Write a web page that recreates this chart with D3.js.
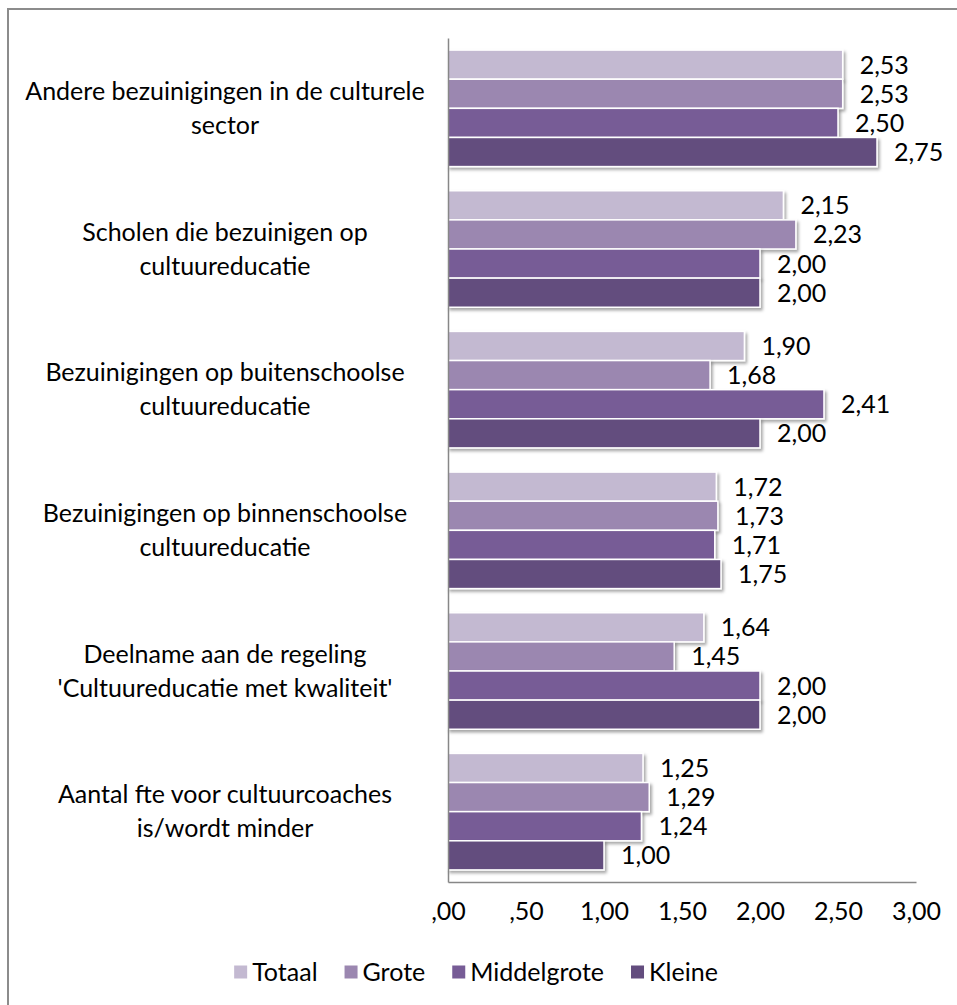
<!DOCTYPE html>
<html>
<head>
<meta charset="utf-8">
<script src="https://cdn.jsdelivr.net/npm/d3@7"></script>
<style>
  html, body { margin: 0; padding: 0; background: #fff; }
  svg { display: block; }
  text { font-family: Lato, "Open Sans", sans-serif; fill: #000; }
</style>
</head>
<body>
<svg id="chart" width="957" height="1005"></svg>
<script>
// ---- Data ----
const categories = [
  ["Andere bezuinigingen in de culturele", "sector"],
  ["Scholen die bezuinigen op", "cultuureducatie"],
  ["Bezuinigingen op buitenschoolse", "cultuureducatie"],
  ["Bezuinigingen op binnenschoolse", "cultuureducatie"],
  ["Deelname aan de regeling", "'Cultuureducatie met kwaliteit'"],
  ["Aantal fte voor cultuurcoaches", "is/wordt minder"]
];
const seriesNames = ["Totaal", "Grote", "Middelgrote", "Kleine"];
const totaal      = [2.53, 2.15, 1.90, 1.72, 1.64, 1.25];
const grote       = [2.53, 2.23, 1.68, 1.73, 1.45, 1.29];
const middelgrote = [2.50, 2.00, 2.41, 1.71, 2.00, 1.24];
const kleine      = [2.75, 2.00, 2.00, 1.75, 2.00, 1.00];
const seriesColors = ["#C3B9D1", "#9B87B0", "#775C96", "#634D7E"];
const xTicks = [0, 0.5, 1, 1.5, 2, 2.5, 3];

const seriesValues = [totaal, grote, middelgrote, kleine];
const fmt = v => { const s = v.toFixed(2).replace(".", ","); return s.startsWith("0") ? s.slice(1) : s; };

const svg = d3.select("#chart");
const FS = 25;

// frame
svg.append("rect").attr("x", 8).attr("y", 9).attr("width", 1000).attr("height", 1050)
  .attr("fill", "#fff").attr("stroke", "#8c8c8c").attr("stroke-width", 2);

// shadow filter
const defs = svg.append("defs");
const f = defs.append("filter").attr("id", "shadow").attr("x", "-5%").attr("y", "-20%").attr("width", "115%").attr("height", "160%");
f.append("feDropShadow").attr("dx", 2).attr("dy", 2.5).attr("stdDeviation", 1.5)
  .attr("flood-color", "#000").attr("flood-opacity", 0.35);

const plot = { left: 448, right: 916, top: 38, bottom: 882 };
const x = d3.scaleLinear().domain([0, 3]).range([plot.left, plot.right]);
const catIdx = d3.range(categories.length);
const y0 = d3.scaleBand().domain(catIdx).range([plot.top, plot.bottom]).paddingInner(0).paddingOuter(0);
const y1 = d3.scaleBand().domain(seriesNames).range([0, y0.bandwidth()]).paddingInner(0).paddingOuter(0.415);

// bars
const groups = svg.append("g").selectAll("g").data(catIdx).join("g")
  .attr("transform", i => `translate(0,${y0(i)})`);
groups.each(function(ci) {
  const g = d3.select(this);
  const data = seriesNames.map((s, si) => ({ s, si, v: seriesValues[si][ci] }));
  g.selectAll("rect").data(data).join("rect")
    .attr("x", x(0))
    .attr("y", d => y1(d.s))
    .attr("width", d => x(d.v) - x(0))
    .attr("height", y1.bandwidth())
    .attr("fill", d => seriesColors[d.si])
    .attr("stroke", "#fff").attr("stroke-width", 1.5)
    .attr("filter", "url(#shadow)");
  g.selectAll("text.val").data(data).join("text").attr("class", "val")
    .attr("x", d => x(d.v) + 17)
    .attr("y", d => y1(d.s) + y1.bandwidth() / 2)
    .attr("dy", "0.36em")
    .attr("font-size", FS)
    .text(d => fmt(d.v));
});

// axes lines
const axisColor = "#878787";
const xAxis = d3.axisBottom(x).tickValues(xTicks).tickSize(0).tickPadding(20).tickFormat(fmt);
const xg = svg.append("g").attr("transform", `translate(0,${plot.bottom})`).call(xAxis);
xg.select(".domain").attr("stroke", axisColor).attr("stroke-width", 1.5);
xg.selectAll("text").attr("font-size", FS).attr("font-family", "Lato, 'Open Sans', sans-serif").attr("fill", "#000");

const yAxis = d3.axisLeft(y0).tickSize(0).tickFormat("");
const yg = svg.append("g").attr("transform", `translate(${plot.left},0)`).call(yAxis);
yg.select(".domain").attr("stroke", axisColor).attr("stroke-width", 1.5);

// category labels
const lh = 34;
const labels = svg.append("g").selectAll("text").data(catIdx).join("text")
  .attr("text-anchor", "middle")
  .attr("font-size", FS)
  .attr("y", i => y0(i) + y0.bandwidth() / 2 - lh / 2 + 8.5);
labels.each(function(i) {
  const t = d3.select(this);
  categories[i].forEach((line, li) => {
    t.append("tspan").attr("x", 225).attr("dy", li === 0 ? 0 : lh).text(line);
  });
});

// legend
const lg = svg.append("g");
const sq = 13, gapText = 5, gapItem = 27, legY = 972;
let cx = 0;
const items = seriesNames.map((s, i) => {
  const g = lg.append("g");
  g.append("rect").attr("x", 0).attr("y", -sq / 2).attr("width", sq).attr("height", sq).attr("fill", seriesColors[i]);
  const t = g.append("text").attr("x", sq + gapText).attr("dy", "0.36em").attr("font-size", FS).text(s);
  const w = sq + gapText + t.node().getComputedTextLength();
  g.attr("transform", `translate(${cx},0)`);
  cx += w + gapItem;
  return g;
});
const totalW = cx - gapItem;
lg.attr("transform", `translate(${476 - totalW / 2},${legY})`);
</script>
</body>
</html>
